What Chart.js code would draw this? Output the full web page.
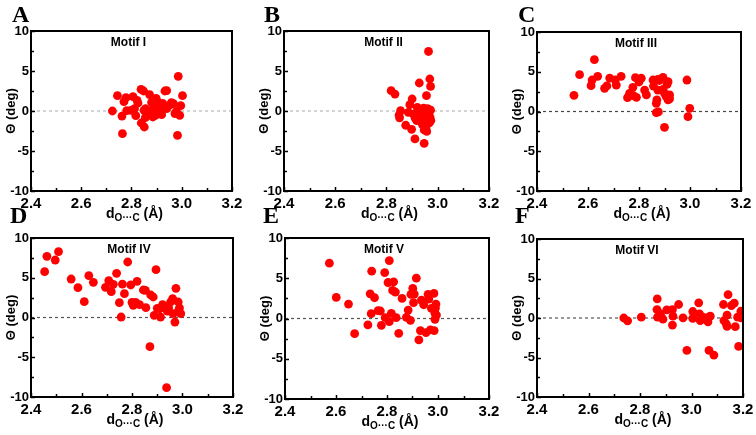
<!DOCTYPE html>
<html><head><meta charset="utf-8">
<script src="https://cdn.jsdelivr.net/npm/chart.js@4.4.0/dist/chart.umd.min.js"></script>
<style>
html,body{margin:0;padding:0;background:#fff;width:756px;height:435px;overflow:hidden;position:relative;}
canvas{position:absolute;left:0;top:0;}
.lbl{position:absolute;font-family:"Liberation Serif","Times New Roman",serif;font-weight:bold;font-size:24px;line-height:1;}
.motif{position:absolute;font-family:"Liberation Sans",Arial,sans-serif;font-weight:bold;font-size:12px;transform:translateX(-50%);white-space:nowrap;line-height:1;}
.xt{position:absolute;font-family:"Liberation Sans",Arial,sans-serif;font-weight:bold;font-size:14px;transform:translateX(-50%);white-space:nowrap;line-height:1;}
.xt sub{font-size:10px;vertical-align:-3px;line-height:0;}
</style></head><body>
<script>
// ---- data ----
const xTicks = [2.4, 2.6, 2.8, 3.0, 3.2];
const yTicks = [-10, -5, 0, 5, 10];
const panelLetters = ['A', 'B', 'C', 'D', 'E', 'F'];
const motifNames = ['Motif I', 'Motif II', 'Motif III', 'Motif IV', 'Motif V', 'Motif VI'];

const motifI = [[2.724,0],[2.744,1.92],[2.762,-0.63],[2.764,-2.84],[2.770,1.17],[2.778,1.67],[2.781,0.04],[2.798,0.08],[2.806,1.8],[2.812,0.29],[2.817,-0.58],[2.822,1.34],[2.826,1.0],[2.838,2.71],[2.848,2.5],[2.839,-1.5],[2.851,-2.0],[2.855,-0.84],[2.856,0.29],[2.85,0.08],[2.868,-0.08],[2.872,2.05],[2.88,1.09],[2.881,0.1],[2.885,-0.75],[2.888,0.29],[2.895,-0.54],[2.898,1.59],[2.9,-0.35],[2.902,1.21],[2.908,0.04],[2.913,0.58],[2.918,-0.33],[2.92,-0.46],[2.924,0.96],[2.933,2.5],[2.94,2.55],[2.94,0.29],[2.95,0.71],[2.959,1.04],[2.967,0.92],[2.973,-0.33],[2.979,-0.04],[2.986,4.34],[2.983,-3.05],[2.992,-0.54],[2.996,0.67],[3.003,1.92]];

const motifII = [[2.818,2.54],[2.833,2.12],[2.849,-0.5],[2.851,-0.85],[2.855,0.04],[2.875,-1.78],[2.885,-0.17],[2.891,0.79],[2.898,-2.29],[2.90,1.5],[2.911,-3.49],[2.905,-0.4],[2.912,-0.9],[2.918,-1.2],[2.92,0.45],[2.925,-0.1],[2.928,3.5],[2.93,0.2],[2.932,-0.6],[2.935,-1.0],[2.938,0.0],[2.94,-1.7],[2.942,-0.3],[2.945,0.35],[2.947,-2.37],[2.947,-4.04],[2.948,-1.3],[2.95,-0.7],[2.952,0.1],[2.954,-2.0],[2.956,1.91],[2.957,-2.55],[2.958,-0.4],[2.96,0.3],[2.962,-1.1],[2.964,7.44],[2.965,-0.2],[2.967,-1.5],[2.968,0.15],[2.969,4.0],[2.970,-0.8],[2.972,3.07],[2.973,-1.2],[2.972,0.1]];

const motifIII = [[2.545,2.03],[2.567,4.63],[2.612,3.25],[2.616,3.96],[2.625,6.52],[2.638,4.42],[2.665,2.91],[2.674,3.21],[2.685,4.21],[2.707,3.96],[2.711,3.33],[2.73,4.42],[2.755,1.74],[2.763,2.28],[2.776,3.04],[2.778,1.99],[2.786,4.26],[2.79,1.78],[2.80,3.71],[2.809,4.18],[2.822,2.7],[2.829,2.08],[2.855,3.96],[2.857,3.2],[2.868,1.03],[2.868,-0.15],[2.87,1.45],[2.874,4.05],[2.874,2.7],[2.876,-0.05],[2.88,3.9],[2.894,4.3],[2.894,2.79],[2.90,2.29],[2.90,-1.99],[2.907,1.86],[2.91,3.4],[2.914,3.75],[2.914,1.45],[2.92,2.08],[2.92,1.6],[2.988,3.96],[2.992,-0.65],[2.999,0.4]];

const motifIV = [[2.454,5.77],[2.463,7.69],[2.496,7.23],[2.509,8.28],[2.559,4.84],[2.586,3.75],[2.611,1.99],[2.629,5.26],[2.647,4.42],[2.695,3.79],[2.708,4.63],[2.718,3.25],[2.726,4.17],[2.739,5.56],[2.75,1.87],[2.757,0.06],[2.762,4.21],[2.77,3.0],[2.783,6.98],[2.795,4.09],[2.8,1.9],[2.805,1.53],[2.814,1.9],[2.82,4.55],[2.83,1.61],[2.845,3.46],[2.853,3.42],[2.855,1.24],[2.871,-3.67],[2.874,2.83],[2.884,2.58],[2.888,0.27],[2.895,6.02],[2.9,1.15],[2.91,1.1],[2.913,0.06],[2.921,1.61],[2.93,1.4],[2.937,-8.83],[2.94,0.8],[2.945,1.2],[2.953,1.95],[2.961,2.37],[2.963,0.48],[2.97,-0.57],[2.974,3.67],[2.983,1.95],[2.988,1.2],[2.993,0.48],[2.985,0.9]];

const motifV = [[2.574,6.87],[2.601,2.62],[2.649,1.79],[2.673,-1.88],[2.725,-0.8],[2.734,3.07],[2.74,5.88],[2.738,0.6],[2.751,2.58],[2.765,0.97],[2.774,0.93],[2.778,-0.85],[2.791,5.71],[2.793,0.1],[2.804,4.47],[2.809,7.2],[2.809,-0.39],[2.817,0.64],[2.822,3.48],[2.826,4.56],[2.833,3.28],[2.836,0.1],[2.846,-1.84],[2.859,2.49],[2.876,0.14],[2.883,1.05],[2.892,-0.23],[2.894,2.99],[2.901,3.73],[2.904,1.96],[2.907,3.03],[2.915,5.01],[2.925,-2.66],[2.931,-1.5],[2.935,2.29],[2.944,1.71],[2.953,-1.75],[2.961,2.99],[2.964,2.41],[2.97,-1.42],[2.974,1.26],[2.984,3.11],[2.985,-1.5],[2.988,0.64],[2.988,-0.1],[2.99,1.3],[2.992,1.79],[2.994,0.43]];

const motifVI = [[2.737,0],[2.752,-0.36],[2.805,0.1],[2.867,2.42],[2.866,1.07],[2.868,0.1],[2.879,0.53],[2.883,0.1],[2.889,-0.15],[2.904,1.03],[2.926,1.07],[2.928,0.23],[2.926,-0.9],[2.95,1.71],[2.967,0.02],[2.982,-4.1],[3.005,0.82],[3.005,-0.06],[3.028,1.92],[3.031,0.53],[3.034,-0.32],[3.044,0.1],[3.064,-0.48],[3.066,0.1],[3.073,0.23],[3.068,-4.1],[3.087,-4.69],[3.124,1.71],[3.126,-0.32],[3.135,-0.74],[3.138,0.36],[3.138,-1.07],[3.142,2.97],[3.155,1.58],[3.166,1.87],[3.17,-1.1],[3.179,0.1],[3.183,-3.6],[3.192,0.86],[3.193,0.02]];

const seriesList = [motifI, motifII, motifIII, motifIV, motifV, motifVI];

// ---- layout (plot-area boxes in page pixels) and styles ----
const boxes = [
  {l:31, r:232, t:31, b:191},
  {l:284, r:489, t:31, b:191},
  {l:537, r:741, t:32, b:191},
  {l:31, r:233, t:238, b:397},
  {l:285, r:489, t:238, b:399},
  {l:537, r:743, t:239, b:397}
];
const letterPos = [[12,2],[264,2],[518,2],[10,203],[263,203],[515,203]];
const zeroColors = ['#b4b8b8','#b4b8b8','#444','#555','#555','#555'];
const FONT = '"Liberation Sans", Arial, sans-serif';

const framePlugin = {
  id: 'frame',
  afterDatasetsDraw(chart) {
    const {ctx, chartArea: a, scales: {x, y}} = chart;
    ctx.save();
    ctx.strokeStyle = '#000';
    ctx.lineWidth = 1.5;
    const xs = [];
    for (let k = 0; k < xTicks.length; k++) {
      xs.push([xTicks[k], 4]);
      if (k < xTicks.length - 1) xs.push([(xTicks[k] + xTicks[k+1]) / 2, 3]);
    }
    xs.forEach(([v, len]) => {
      const px = Math.round(x.getPixelForValue(v)) + 0.5;
      ctx.beginPath(); ctx.moveTo(px, a.bottom); ctx.lineTo(px, a.bottom - len); ctx.stroke();
    });
    const ys = [];
    for (let k = 0; k < yTicks.length; k++) {
      ys.push([yTicks[k], 4]);
      if (k < yTicks.length - 1) ys.push([(yTicks[k] + yTicks[k+1]) / 2, 3]);
    }
    ys.forEach(([v, len]) => {
      const py = Math.round(y.getPixelForValue(v)) + 0.5;
      ctx.beginPath(); ctx.moveTo(a.left, py); ctx.lineTo(a.left + len, py); ctx.stroke();
    });
    ctx.lineWidth = 2;
    ctx.strokeRect(a.left, a.top, a.right - a.left, a.bottom - a.top);
    ctx.restore();
  }
};

const YW = 30, XH = 30;

function makePanel(i) {
  const box = boxes[i];
  const c = document.createElement('canvas');
  c.width = 756; c.height = 435;
  c.style.width = '756px'; c.style.height = '435px';
  document.body.appendChild(c);
  new Chart(c, {
    type: 'scatter',
    data: {
      datasets: [
        {
          type: 'line',
          data: [{x: xTicks[0], y: 0}, {x: xTicks[xTicks.length - 1], y: 0}],
          borderColor: zeroColors[i], borderWidth: 1.2, borderDash: [3, 3],
          pointRadius: 0, fill: false, order: 2
        },
        {
          data: seriesList[i].map(p => ({x: p[0], y: p[1]})),
          backgroundColor: '#ff0000', borderColor: '#ff0000',
          pointRadius: 4.4, borderWidth: 0, order: 1
        }
      ]
    },
    options: {
      responsive: false, animation: false, devicePixelRatio: 1,
      events: [],
      layout: {padding: {left: box.l - YW, top: box.t, right: 756 - box.r, bottom: 435 - box.b - XH}},
      plugins: {legend: {display: false}, tooltip: {enabled: false}},
      scales: {
        x: {
          type: 'linear', min: xTicks[0], max: xTicks[xTicks.length - 1],
          afterBuildTicks: s => { s.ticks = xTicks.map(v => ({value: v})); },
          afterFit: s => { s.height = XH; s.paddingLeft = 0; s.paddingRight = 0; },
          grid: {display: false, drawTicks: false},
          border: {display: false},
          ticks: {font: {family: FONT, weight: 'bold', size: 15}, color: '#000', padding: 4,
                  maxRotation: 0, autoSkip: false, callback: v => Number(v).toFixed(1)}
        },
        y: {
          type: 'linear', min: yTicks[0], max: yTicks[yTicks.length - 1],
          afterBuildTicks: s => { s.ticks = yTicks.map(v => ({value: v})); },
          afterFit: s => { s.width = YW; s.paddingTop = 0; s.paddingBottom = 0; },
          grid: {display: false, drawTicks: false},
          border: {display: false},
          ticks: {font: {family: FONT, weight: 'bold', size: 13}, color: '#000', padding: 2, autoSkip: false},
          title: {display: true, text: 'Θ (deg)', color: '#000',
                  font: {family: FONT, weight: 'bold', size: 13, lineHeight: 1.2},
                  padding: {top: 2.2, bottom: 0}}
        }
      }
    },
    plugins: [framePlugin]
  });

  const m = document.createElement('div');
  m.className = 'motif';
  m.textContent = motifNames[i];
  m.style.left = ((box.l + box.r) / 2 - 3) + 'px';
  m.style.top = (box.t + 5) + 'px';
  document.body.appendChild(m);

  const t = document.createElement('div');
  t.className = 'xt';
  t.innerHTML = 'd<sub>O\u00B7\u00B7\u00B7C</sub> (\u00C5)';
  t.style.left = ((box.l + box.r) / 2 + 3) + 'px';
  t.style.top = (box.b + 15) + 'px';
  document.body.appendChild(t);

  const L = document.createElement('div');
  L.className = 'lbl';
  L.textContent = panelLetters[i];
  L.style.left = letterPos[i][0] + 'px';
  L.style.top = letterPos[i][1] + 'px';
  document.body.appendChild(L);
}

for (let i = 0; i < 6; i++) makePanel(i);
</script>
</body></html>
